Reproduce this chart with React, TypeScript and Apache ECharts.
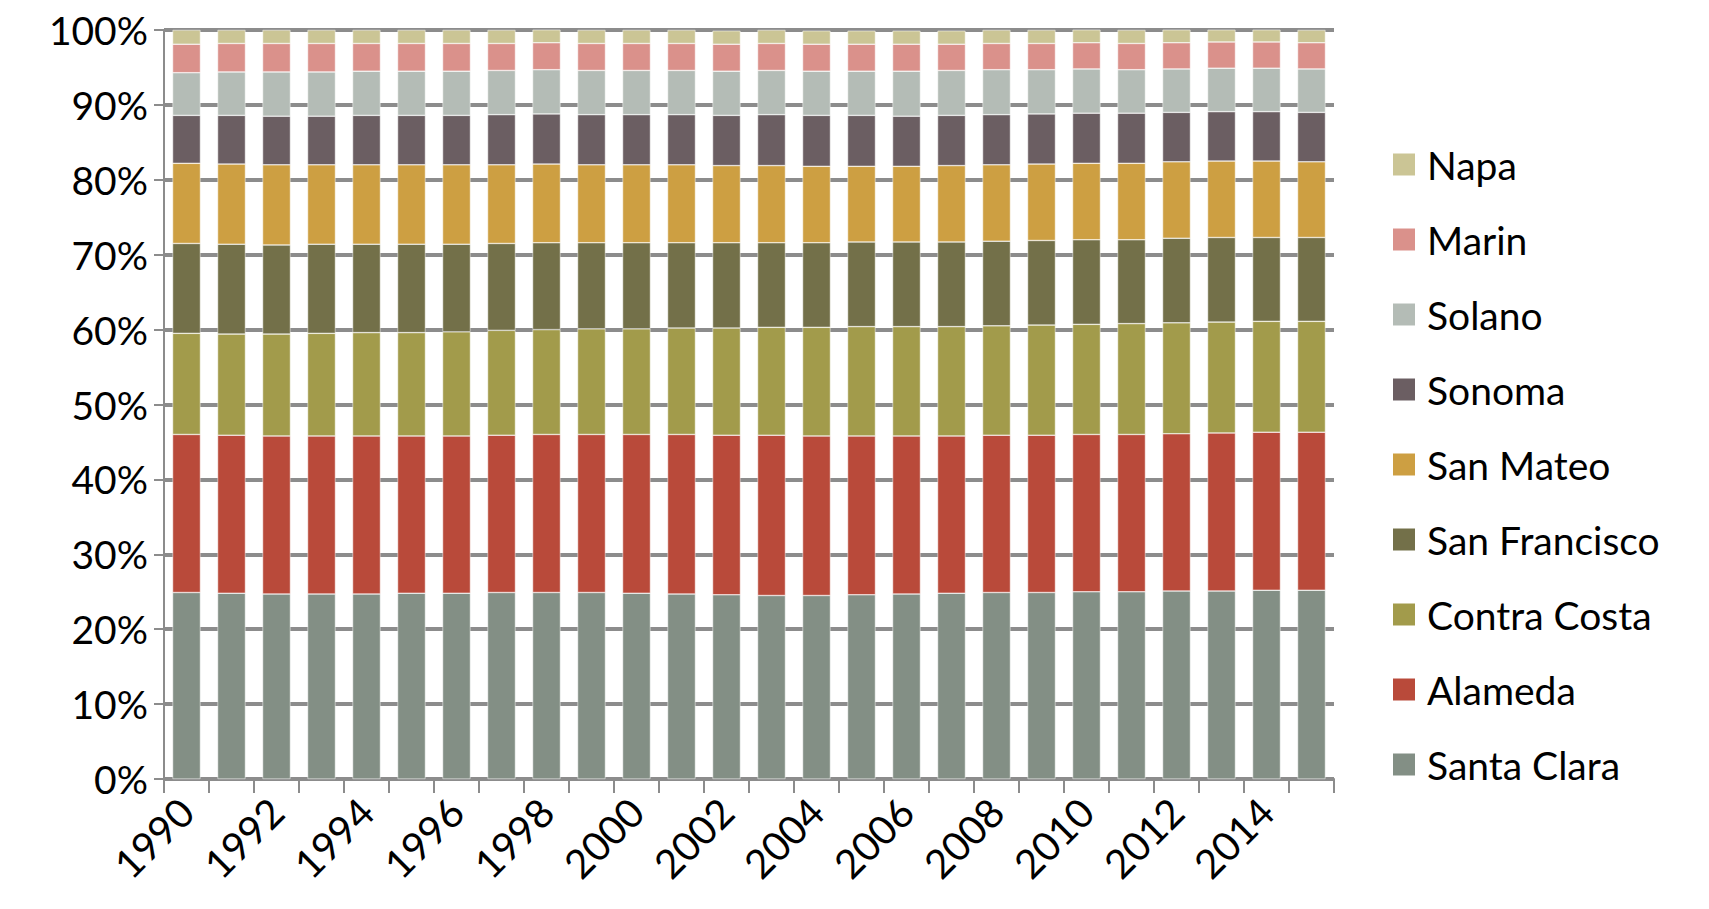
import { useEffect, useRef } from 'react'
import * as echarts from 'echarts'

// ── Data (share of total, %) ──────────────────────────────────────────────────

const years = Array.from({ length: 26 }, (_, i) => String(1990 + i))

const santaClara = [24.9, 24.8, 24.7, 24.7, 24.7, 24.8, 24.8, 24.9, 24.9, 24.9, 24.8, 24.7, 24.6, 24.5, 24.5, 24.6, 24.7, 24.8, 24.9, 24.9, 25.0, 25.0, 25.1, 25.1, 25.2, 25.2]
const alameda = [21.1, 21.1, 21.1, 21.1, 21.1, 21.0, 21.0, 21.0, 21.1, 21.1, 21.2, 21.3, 21.3, 21.4, 21.3, 21.2, 21.1, 21.0, 21.0, 21.0, 21.0, 21.0, 21.0, 21.1, 21.1, 21.1]
const contraCosta = [13.5, 13.5, 13.6, 13.7, 13.8, 13.8, 13.9, 14.0, 14.0, 14.1, 14.1, 14.2, 14.3, 14.4, 14.5, 14.6, 14.6, 14.6, 14.6, 14.7, 14.7, 14.8, 14.8, 14.8, 14.8, 14.8]
const sanFrancisco = [12.0, 12.0, 11.9, 11.9, 11.8, 11.8, 11.7, 11.6, 11.6, 11.5, 11.5, 11.4, 11.4, 11.3, 11.3, 11.3, 11.3, 11.3, 11.3, 11.3, 11.3, 11.2, 11.3, 11.3, 11.2, 11.2]
const sanMateo = [10.7, 10.7, 10.7, 10.6, 10.6, 10.6, 10.6, 10.5, 10.5, 10.4, 10.4, 10.4, 10.3, 10.3, 10.2, 10.1, 10.1, 10.2, 10.2, 10.2, 10.2, 10.2, 10.2, 10.2, 10.2, 10.1]
const sonoma = [6.4, 6.5, 6.5, 6.5, 6.6, 6.6, 6.6, 6.7, 6.7, 6.7, 6.7, 6.7, 6.7, 6.8, 6.8, 6.8, 6.7, 6.7, 6.7, 6.7, 6.7, 6.7, 6.6, 6.6, 6.6, 6.6]
const solano = [5.7, 5.8, 5.9, 5.9, 5.9, 5.9, 5.9, 5.9, 5.9, 5.9, 5.9, 5.9, 5.9, 5.9, 5.9, 5.9, 6.0, 6.0, 6.0, 5.9, 5.9, 5.8, 5.8, 5.8, 5.8, 5.8]
const marin = [3.8, 3.8, 3.8, 3.8, 3.7, 3.7, 3.7, 3.6, 3.6, 3.6, 3.6, 3.6, 3.6, 3.6, 3.6, 3.6, 3.6, 3.5, 3.5, 3.5, 3.5, 3.5, 3.5, 3.5, 3.5, 3.5]
const napa = [1.9, 1.8, 1.8, 1.8, 1.8, 1.8, 1.8, 1.8, 1.8, 1.8, 1.8, 1.8, 1.8, 1.8, 1.8, 1.8, 1.8, 1.8, 1.8, 1.8, 1.8, 1.8, 1.8, 1.8, 1.7, 1.7]

const seriesDefs: [string, number[], string][] = [
  ['Santa Clara', santaClara, '#838f85'],
  ['Alameda', alameda, '#b94a3a'],
  ['Contra Costa', contraCosta, '#a29b4b'],
  ['San Francisco', sanFrancisco, '#737049'],
  ['San Mateo', sanMateo, '#cd9f42'],
  ['Sonoma', sonoma, '#6b5e62'],
  ['Solano', solano, '#b4bcb6'],
  ['Marin', marin, '#da918b'],
  ['Napa', napa, '#cbc595'],
]

const FONT = 'Lato, "Noto Sans", sans-serif'

export default function App() {
  const ref = useRef<HTMLDivElement>(null)

  useEffect(() => {
    document.body.style.margin = '0'
    if (!ref.current) return
    const chart = echarts.init(ref.current, null, { renderer: 'svg' })
    chart.setOption({
      animation: false,
      backgroundColor: '#fff',
      grid: { left: 164, right: 375, top: 30, bottom: 130, outerBoundsMode: 'none' },
      legend: {
        orient: 'vertical',
        left: 1386,
        top: 140,
        itemWidth: 24,
        itemHeight: 24,
        itemGap: 36,
        icon: 'rect',
        data: seriesDefs.map((s) => s[0]).reverse(),
        textStyle: { fontSize: 39, fontFamily: FONT, color: '#000', padding: [0, 0, 0, 6] },
      },
      xAxis: {
        type: 'category',
        data: years,
        boundaryGap: true,
        axisLine: { lineStyle: { color: '#8c8c8c', width: 2 } },
        axisTick: { show: true, interval: 0, length: 14, lineStyle: { color: '#8c8c8c', width: 2 } },
        axisLabel: {
          interval: 1,
          rotate: 45,
          fontSize: 40,
          fontFamily: FONT,
          color: '#000',
          margin: 26,
        },
      },
      yAxis: {
        type: 'value',
        min: 0,
        max: 100,
        interval: 10,
        axisLine: { show: true, lineStyle: { color: '#8c8c8c', width: 2 } },
        axisTick: { show: true, length: 10, lineStyle: { color: '#8c8c8c', width: 2 } },
        splitLine: { lineStyle: { color: '#8c8c8c', width: 4 } },
        axisLabel: { formatter: '{value}%', fontSize: 39, fontFamily: FONT, color: '#000', margin: 16 },
      },
      series: seriesDefs.map(([name, data, color]) => ({
        name,
        type: 'bar',
        stack: 'total',
        data,
        barWidth: '62%',
        itemStyle: { color, borderColor: '#fff', borderWidth: 0.5 },
      })),
    })
    return () => chart.dispose()
  }, [])

  return <div ref={ref} style={{ width: 1709, height: 909 }} />
}
